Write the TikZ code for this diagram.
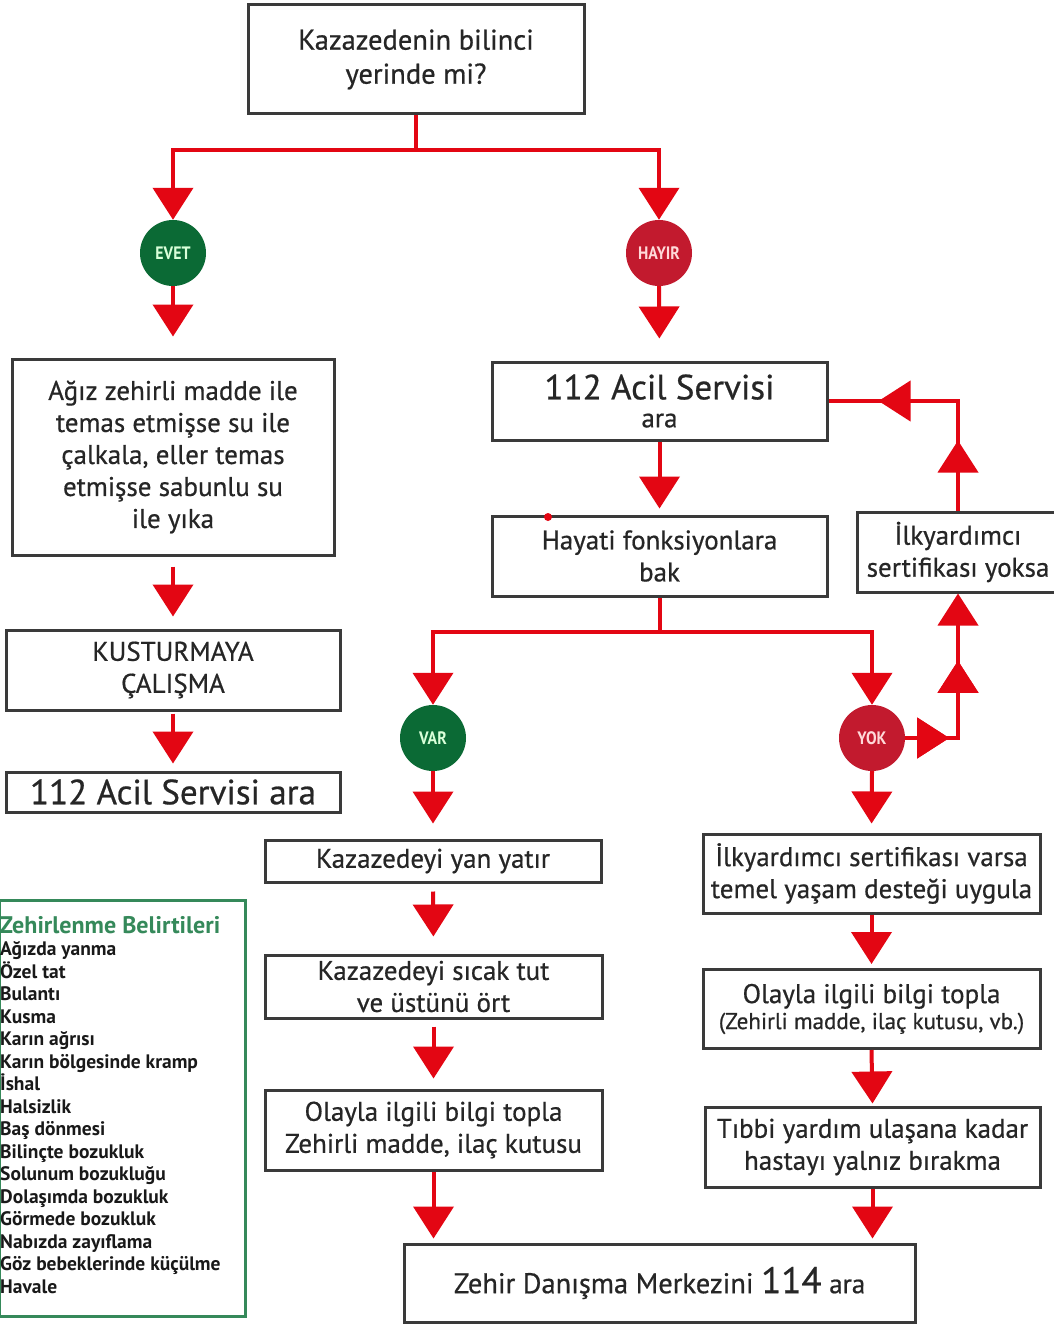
\documentclass[tikz,border=0pt]{standalone}
\usepackage{fontspec}
\setmainfont{PT Sans}
\newfontfamily\boxfont[FakeBold=0.6]{PT Sans}
\newfontfamily\condfont[FakeStretch=0.88]{PT Sans}
\newfontfamily\legfont{PT Sans}
\usetikzlibrary{arrows.meta,decorations.markings}
\definecolor{ared}{HTML}{E30613}
\definecolor{cgreen}{HTML}{0B6A35}
\definecolor{cred}{HTML}{C21A2E}
\definecolor{lgreen}{HTML}{35895A}
\definecolor{boxgray}{HTML}{3A3A3A}
\begin{document}
\begin{tikzpicture}[x=1pt,y=-1pt,
  box/.style={draw=boxgray, line width=3pt, fill=white, align=center, inner sep=0pt,
    text=black!85, font=\boxfont\fontsize{27}{32}\selectfont},
  circ/.style={circle, inner sep=0pt, minimum size=66pt, font=\condfont\bfseries\fontsize{18}{18}\selectfont},
  tri/.tip={Triangle[width=40pt,length=32pt]},
  rline/.style={color=ared, line width=4pt},
  arr/.style={rline, -tri},
  midarr/.style={postaction=decorate, decoration={markings, mark=at position #1 with {\arrow{tri}}}}
]
\useasboundingbox (0,0) rectangle (1053,1324);
\fill[white] (0,0) rectangle (1053,1324);

% boxes
\node[box, minimum width=336pt, minimum height=109pt, font=\boxfont\fontsize{28.5}{34}\selectfont] (q) at (416,59.5) {Kazazedenin bilinci\\yerinde mi?};
\node[circ, fill=cgreen, text=green!15!white] (evet) at (173,253) {EVET};
\node[circ, fill=cred, text=red!15!white] (hayir) at (659,253) {HAYIR};

\node[box, minimum width=322pt, minimum height=196pt] (a1) at (173,457)
  {Ağız zehirli madde ile\\temas etmişse su ile\\çalkala, eller temas\\etmişse sabunlu su\\ile yıka};
\node[box, minimum width=334pt, minimum height=80pt] (a2) at (173,670) {KUSTURMAYA\\ÇALIŞMA};
\node[box, minimum width=334pt, minimum height=40pt, font=\boxfont\fontsize{35}{35}\selectfont] (a3) at (173,792) {112 Acil Servisi ara};

\node[box, minimum width=335pt, minimum height=78pt] (b1) at (659.5,401)
  {{\fontsize{35}{35}\selectfont 112 Acil Servisi}\\[-4pt]ara};
\node[box, minimum width=335pt, minimum height=80pt] (b2) at (659.5,556) {Hayati fonksiyonlara\\bak};
\fill[ared] (548,517) circle (4pt);
\node[box, minimum width=202pt, minimum height=80pt] (s1) at (958,552) {İlkyardımcı\\sertifikası yoksa};

\node[circ, fill=cgreen, text=green!15!white] (var) at (433,738) {VAR};
\node[circ, fill=cred, text=red!15!white] (yok) at (872,738) {YOK};

\node[box, minimum width=336pt, minimum height=42pt] (c1) at (433,861) {Kazazedeyi yan yatır};
\node[box, minimum width=337pt, minimum height=63pt] (c2) at (433.5,986.5) {Kazazedeyi sıcak tut\\ve üstünü ört};
\node[box, minimum width=337pt, minimum height=80pt] (c3) at (433.5,1130) {Olayla ilgili bilgi topla\\Zehirli madde, ilaç kutusu};

\node[box, minimum width=337pt, minimum height=79pt] (d1) at (871.5,873.5) {İlkyardımcı sertifikası varsa\\temel yaşam desteği uygula};
\node[box, minimum width=337pt, minimum height=79pt] (d2) at (871.5,1009)
  {Olayla ilgili bilgi topla\\[-6pt]{\fontsize{23}{23}\selectfont (Zehirli madde, ilaç kutusu, vb.)}};
\node[box, minimum width=335pt, minimum height=80pt] (d3) at (872.5,1147) {Tıbbi yardım ulaşana kadar\\hastayı yalnız bırakma};

\node[box, minimum width=511pt, minimum height=78pt, font=\boxfont\fontsize{28.5}{32}\selectfont] (z) at (659.5,1283)
  {Zehir Danışma Merkezini {\fontsize{37}{37}\selectfont 114} {\fontsize{27}{27}\selectfont ara}};

% legend
\node[draw=lgreen, line width=3pt, minimum width=246pt, minimum height=416pt, anchor=north west, inner sep=0pt] (leg) at (-2,899) {};
\node[anchor=north west, inner sep=0pt, align=left, font=\legfont\bfseries\fontsize{19.5}{22.5}\selectfont, text=black!90] (legt) at (0,916)
  {{\color{lgreen}\fontsize{24}{22.5}\selectfont Zehirlenme Belirtileri}\\
   Ağızda yanma\\Özel tat\\Bulantı\\Kusma\\Karın ağrısı\\Karın bölgesinde kramp\\İshal\\Halsizlik\\Baş dönmesi\\Bilinçte bozukluk\\Solunum bozukluğu\\Dolaşımda bozukluk\\Görmede bozukluk\\Nabızda zayıflama\\Göz bebeklerinde  küçülme\\Havale};

% connectors
\coordinate (qj) at (416,150);
\draw[rline] (q.south) -- (qj);
\draw[arr] (qj) -| (evet.north);
\draw[arr] (qj) -| (hayir.north);

\draw[arr, shorten >=21pt] (evet.south) -- (a1.north);
\draw[arr, shorten <=10pt, shorten >=12pt] (a1.south) -- (a2.north);
\draw[arr, shorten <=2pt, shorten >=7pt] (a2.south) -- (a3.north);

\draw[arr, shorten >=22pt] (hayir.south) -- (b1.north);
\draw[arr, shorten >=6pt] (b1.south) -- (b2.north);

\coordinate (bj) at (659.5,632);
\draw[rline] (b2.south) -- (bj);
\draw[arr] (bj) -| (var.north);
\draw[arr] (bj) -| (yok.north);

\draw[arr, midarr=44pt, midarr=130pt] (yok.east) -| (s1.south);
\draw[rline, postaction=decorate, decoration={markings,
   mark=at position 70pt with {\arrow{tri}},
   mark=at position 189pt with {\arrow{tri}}}] (s1.north) |- (b1.east);

\draw[arr, shorten >=15pt] (var.south) -- (c1.north);
\draw[arr, shorten <=8pt, shorten >=17pt] (c1.south) -- (c2.north);
\draw[arr, shorten <=7pt, shorten >=10pt] (c2.south) -- (c3.north);
\draw[arr, shorten >=4pt] (c3.south) -- (c3.south |- z.north);

\draw[arr, shorten >=9pt] (yok.south) -- (d1.north);
\draw[arr, shorten >=4pt] (d1.south) -- (d2.north);
\draw[arr, shorten >=2pt] (d2.south) -- (d3.north);
\draw[arr, shorten >=4pt] (d3.south) -- (d3.south |- z.north);
\end{tikzpicture}
\end{document}
